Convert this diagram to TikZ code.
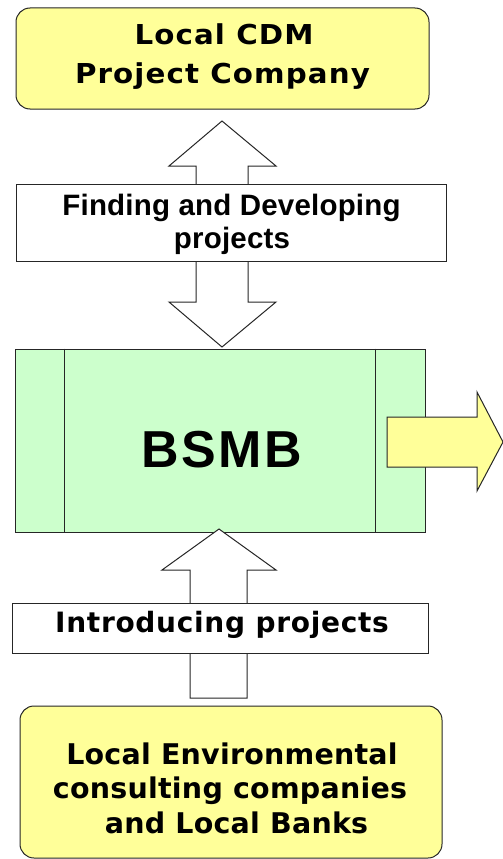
\documentclass[tikz,border=0pt]{standalone}
\usepackage{fontspec}
\setmainfont{DejaVu Sans}
\newfontfamily\partyfont{DejaVu Sans}[FakeStretch=1.07,LetterSpace=4]
\newfontfamily\consultfont{DejaVu Sans}[LetterSpace=0.8]
\newfontfamily\stepfont{Liberation Sans}[LetterSpace=0.7]
\newfontfamily\introfont{DejaVu Sans}[LetterSpace=2.5]
\newfontfamily\bsmbfont{Liberation Sans}[LetterSpace=5]
\begin{document}
\begin{tikzpicture}[x=1pt,y=-1pt,
  edge/.style={draw=black!85,line width=1pt},
  partybox/.style={edge,fill=partyyellow,rounded corners=14pt,inner sep=0pt},
  labelbox/.style={edge,fill=white,inner sep=0pt},
  blockarrow/.style={edge,fill=white,line join=miter},
  line/.style={anchor=base,inner sep=0pt}
]
\definecolor{partyyellow}{HTML}{FFFF99}
\definecolor{bsmbgreen}{HTML}{CCFFCC}
\useasboundingbox (0,0) rectangle (503,859);

% upper party
\node[partybox,minimum width=413pt,minimum height=101pt] (cdm) at (222.5,58.5) {};
\begin{scope}[font=\partyfont\bfseries\fontsize{27.4}{33}\selectfont]
  \node[line] (cdm1) at (224,44.3) {Local CDM};
  \node[line] (cdm2) at (222.5,83) {Project Company};
\end{scope}

% two-way block arrow between the company and BSMB
\draw[blockarrow] (222,121) -- (276,166) -- (248,166) -- (248,302) -- (276,302)
  -- (222,347) -- (169,302) -- (196,302) -- (196,166) -- (169,166) -- cycle;

\node[labelbox,minimum width=430pt,minimum height=77pt] (find) at (231,222.5) {};
\begin{scope}[font=\stepfont\bfseries\fontsize{29.5}{33}\selectfont]
  \node[line] (find1) at (231.5,215) {Finding and Developing};
  \node[line] (find2) at (232,248.5) {projects};
\end{scope}

% central process box with two side bars
\node[edge,fill=bsmbgreen,minimum width=410pt,minimum height=183pt,inner sep=0pt] (bsmb) at (220,440.5) {};
\draw[edge] (bsmb.north west) ++(50,0) coordinate (bl) -- (bl |- bsmb.south);
\draw[edge] (bsmb.north east) ++(-50,0) coordinate (br) -- (br |- bsmb.south);
\node[line,font=\bsmbfont\bfseries\fontsize{52}{60}\selectfont] (bsmbtxt) at (222,467.7) {BSMB};

% outgoing arrow to the right
\draw[blockarrow,fill=partyyellow] (387,417) -- (477,417) -- (477,392) -- (503,442)
  -- (477,491) -- (477,467) -- (387,467) -- cycle;

% one-way block arrow from the consultants up to BSMB
\draw[blockarrow] (219,529) -- (276,570) -- (247,570) -- (247,698) -- (190,698)
  -- (190,570) -- (162,570) -- cycle;

\node[labelbox,minimum width=416pt,minimum height=50pt] (intro) at (220,628) {};
\node[line,font=\introfont\bfseries\fontsize{28}{33}\selectfont] (introtxt) at (222,632.8)
  {Introducing projects};

% lower party
\node[partybox,minimum width=422pt,minimum height=152pt] (env) at (231,782) {};
\begin{scope}[font=\consultfont\bfseries\fontsize{28.5}{33}\selectfont]
  \node[line] (env1) at (232,764.3) {Local Environmental};
  \node[line] (env2) at (230,798.8) {consulting companies};
  \node[line] (env3) at (236.5,833.3) {and Local Banks};
\end{scope}
\end{tikzpicture}
\end{document}
